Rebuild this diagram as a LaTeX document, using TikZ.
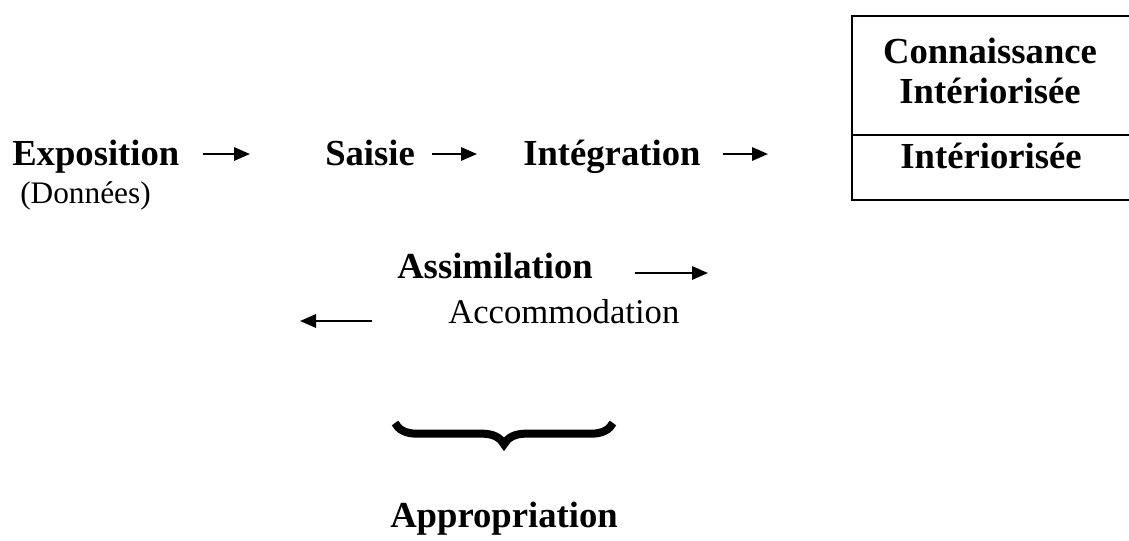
\documentclass[tikz,border=0pt]{standalone}
\usepackage{fontspec}
\setmainfont{Liberation Serif}
\usetikzlibrary{
	arrows.meta,
	decorations.pathreplacing
}

\begin{document}
\begin{tikzpicture}[x=0.75pt, y=-0.75pt,
		stage/.style={font=\fontsize{27.5}{30}\selectfont\bfseries, inner sep=0pt, anchor=base west},
		boxtext/.style={font=\fontsize{27.5}{30}\selectfont\bfseries, inner sep=0pt, anchor=base},
		note/.style={font=\fontsize{26}{30}\selectfont, inner sep=0pt, anchor=base west},
		flow/.style={-{Triangle[length=12pt,width=10pt]}, line width=1.6pt}]
				\useasboundingbox (0,0) rectangle (1129,540);
				% top row
				\node[stage] (expo) at (12,165) {Exposition};
				\node[note, font=\fontsize{23.5}{26}\selectfont] (donnees) at (20,203) {(Données)};
				\node[stage] (saisie) at (325,165) {Saisie};
				\node[stage] (integ) at (523,165) {Intégration};
				% box on the right
				\draw[line width=1.2pt] (1135,16) -- (852,16) -- (852,200) -- (1135,200);
				\draw[line width=1.2pt] (852,135) -- (1135,135);
				\node[boxtext] (conn) at (990,63) {Connaissance};
				\node[boxtext] (inter) at (990,103) {Intériorisée};
				\node[boxtext] (interb) at (991,168) {Intériorisée};
				% arrows
				\coordinate (a1s) at (203,154);
				\coordinate (a1e) at (250,154);
				\coordinate (a2s) at (432,154);
				\coordinate (a2e) at (477,154);
				\coordinate (a3s) at (723,154);
				\coordinate (a3e) at (768,154);
				\draw[flow] (a1s) -- (a1e);
				\draw[flow] (a2s) -- (a2e);
				\draw[flow] (a3s) -- (a3e);
				% middle part
				\node[stage] (assim) at (397,278) {Assimilation};
				\node[note] (accom) at (448,323) {Accommodation};
				\coordinate (b1s) at (635,273);
				\coordinate (b1e) at (708,273);
				\coordinate (b2s) at (372,321);
				\coordinate (b2e) at (300,321);
				\draw[flow] (b1s) -- (b1e);
				\draw[flow] (b2s) -- (b2e);
				% brace
				\coordinate (brl) at (395,423);
				\coordinate (brr) at (613,423);
				\draw[line width=6pt, decorate, decoration={brace, mirror, amplitude=16pt}] (brl) -- (brr);
				\node[stage] (approp) at (390,527) {Appropriation};
			\end{tikzpicture}
\end{document}
